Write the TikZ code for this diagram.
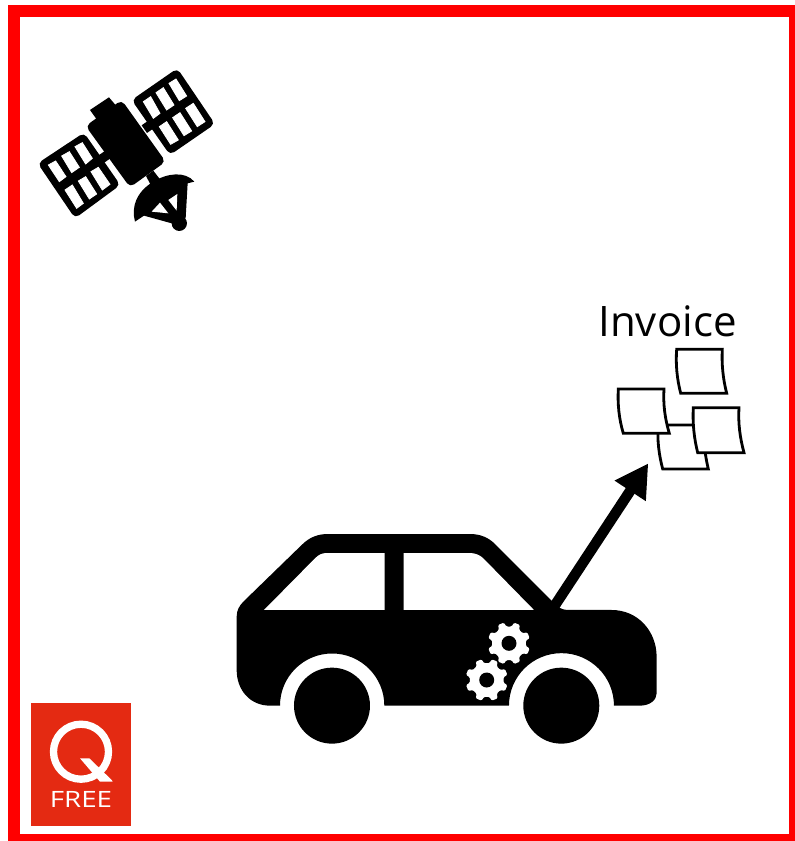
\documentclass[tikz,border=0pt]{standalone}
\usepackage{fontspec}
\setmainfont{Open Sans}
\usetikzlibrary{arrows.meta}
\definecolor{qred}{HTML}{E42A12}
\tikzset{
  blk/.style={fill=black,draw=none},
  wht/.style={fill=white,draw=none},
  cell/.style={fill=white,draw=white,line width=0.8pt},
  note/.style={fill=white,draw=black,line width=2.8pt,line join=miter},
  panel/.style={fill=black,draw=none,rounded corners=5pt},
  zoomA/.style={shift={(20,50)},x=0.3333pt,y=-0.3333pt},
  zoomB/.style={shift={(220,520)},x=0.3333pt,y=-0.3333pt},
}
\newcommand{\gearshape}[3]{%
  \fill[white,rounded corners=1.2pt,shift={(#1,#2)},rotate=#3]
    (0:17) -- (9:17) -- (14:21.3) -- (31:21.3) -- (36:17) -- (54:17) -- (59:21.3) -- (76:21.3) -- (81:17)
    -- (99:17) -- (104:21.3) -- (121:21.3) -- (126:17) -- (144:17) -- (149:21.3) -- (166:21.3) -- (171:17)
    -- (189:17) -- (194:21.3) -- (211:21.3) -- (216:17) -- (234:17) -- (239:21.3) -- (256:21.3) -- (261:17)
    -- (279:17) -- (284:21.3) -- (301:21.3) -- (306:17) -- (324:17) -- (329:21.3) -- (346:21.3) -- (351:17) -- cycle;
  \fill[black] (#1,#2) circle[radius=7.5];
}
\begin{document}
\begin{tikzpicture}[x=1pt,y=-1pt]
\useasboundingbox (0,0) rectangle (795,841);
\fill[white] (0,0) rectangle (795,841);
% frame
\draw[red,line width=12pt] (14,11) rectangle (795,840);
% satellite
\begin{scope}[zoomA]
  \fill[panel] (53,340) -- (192,248) -- (301,405) -- (165,505) -- cycle;
  \fill[panel] (335,150) -- (472,55) -- (585,222) -- (450,315) -- cycle;
  \foreach \c in {
    {(85,345)--(107,333)--(138,380)--(118,395)},
    {(125,318)--(148,305)--(178,352)--(155,368)},
    {(165,290)--(187,278)--(217,325)--(197,342)},
    {(135,420)--(157,405)--(190,460)--(170,475)},
    {(175,393)--(197,380)--(230,432)--(208,447)},
    {(213,365)--(235,352)--(270,403)--(247,420)},
    {(370,155)--(392,140)--(420,190)--(400,205)},
    {(408,128)--(430,113)--(462,165)--(440,180)},
    {(447,100)--(468,87)--(500,138)--(478,152)},
    {(418,230)--(440,215)--(475,270)--(452,283)},
    {(458,203)--(480,188)--(515,243)--(492,257)},
    {(497,175)--(520,160)--(555,215)--(532,230)}}
    {\path[cell] \c -- cycle;}
  % arms
  \fill[blk] (233,318) -- (262,298) -- (277,321) -- (250,340) -- cycle;
  \fill[blk] (365,226) -- (389,209) -- (405,232) -- (381,249) -- cycle;
  % cap and body
  \fill[blk] (210,180) -- (267,142) -- (295,175) -- (235,215) -- cycle;
  \fill[panel] (197,228) -- (305,150) -- (437,335) -- (330,412) -- cycle;
  % stem
  \fill[blk] (378,378) -- (400,362) -- (420,388) -- (395,410) -- cycle;
  % dish
  \fill[blk] (345,515) .. controls (333,470) and (350,425) .. (400,395)
     .. controls (440,370) and (495,362) .. (523,395)
     -- (503,400) -- (497,505) -- (455,520) -- (372,497) -- cycle;
  \fill[blk] (478,520) circle[radius=23];
  \fill[wht] (395,485) -- (420,458) -- (445,490) -- cycle;
  \fill[wht] (445,450) -- (472,432) -- (470,482) -- cycle;
\end{scope}
% invoice
\node[font=\fontsize{42}{50}\selectfont,inner sep=0pt] (inv) at (667.5,321) {Invoice};
\draw[note] (658.3,425) -- (704,425) .. controls (703,440) and (705,455) .. (708.3,469) -- (662.7,469) .. controls (659,455) and (657,440) .. (658.3,425) -- cycle;
\draw[note] (618.3,389) -- (664,389) .. controls (663,404) and (665,419) .. (669.3,433.3) -- (623.3,433.3) .. controls (619,419) and (617.5,404) .. (618.3,389) -- cycle;
\draw[note] (693.3,407.7) -- (739,407.7) .. controls (738,423) and (740,438) .. (744,452.7) -- (697.7,452.7) .. controls (694,438) and (692.5,423) .. (693.3,407.7) -- cycle;
\draw[note] (676.7,349.3) -- (722.3,349.3) .. controls (721.5,364) and (723,379) .. (726.7,393.3) -- (680.7,393.3) .. controls (677,379) and (675.5,364) .. (676.7,349.3) -- cycle;
% arrow
\coordinate (arrowstart) at (553.8,607);
\coordinate (arrowend) at (648.3,463.3);
\draw[line width=10.5pt,-{Triangle[length=33pt,width=35pt]}] (arrowstart) -- (arrowend);
% car
\begin{scope}[zoomB]
  \fill[blk] (180,557) -- (150,557) .. controls (90,557) and (50,510) .. (50,450)
    -- (50,290) .. controls (50,270) and (58,258) .. (70,245)
    -- (245,75) .. controls (270,50) and (295,42) .. (325,42)
    -- (750,42) .. controls (780,42) and (805,52) .. (825,72)
    -- (1015,262) .. controls (1025,268) and (1035,270) .. (1050,270)
    -- (1175,270) .. controls (1255,270) and (1310,335) .. (1310,410)
    -- (1310,520) .. controls (1310,540) and (1290,557) .. (1260,557)
    -- (1182,557) arc[start angle=0,end angle=-180,radius=157.5] -- (493,557)
    arc[start angle=0,end angle=-180,radius=156.5] -- cycle;
  \fill[wht] (132,270) -- (285,115) .. controls (295,105) and (305,99) .. (320,99) -- (494,99) -- (494,270) -- cycle;
  \fill[wht] (551,270) -- (551,99) -- (750,99) .. controls (765,99) and (780,105) .. (790,115) -- (942,270) -- cycle;
  \fill[blk] (336,557) circle[radius=114];
  \fill[blk] (1024,557) circle[radius=114];
\end{scope}
\gearshape{509}{643.3}{0}
\gearshape{486.7}{680}{0}
% logo
\fill[qred] (31,702.7) rectangle (130.7,826);
\draw[white,line width=7.3pt] (81,751.7) circle[radius=27.5];
\fill[white] (80,758.3) -- (89.3,758.3) -- (111.7,780) -- (112.7,781.7) -- (100,781.7) -- cycle;
\node[white,font=\fontsize{22.5}{26}\selectfont,inner sep=0pt,xscale=1.23] (free) at (81,799) {FREE};
\end{tikzpicture}
\end{document}
